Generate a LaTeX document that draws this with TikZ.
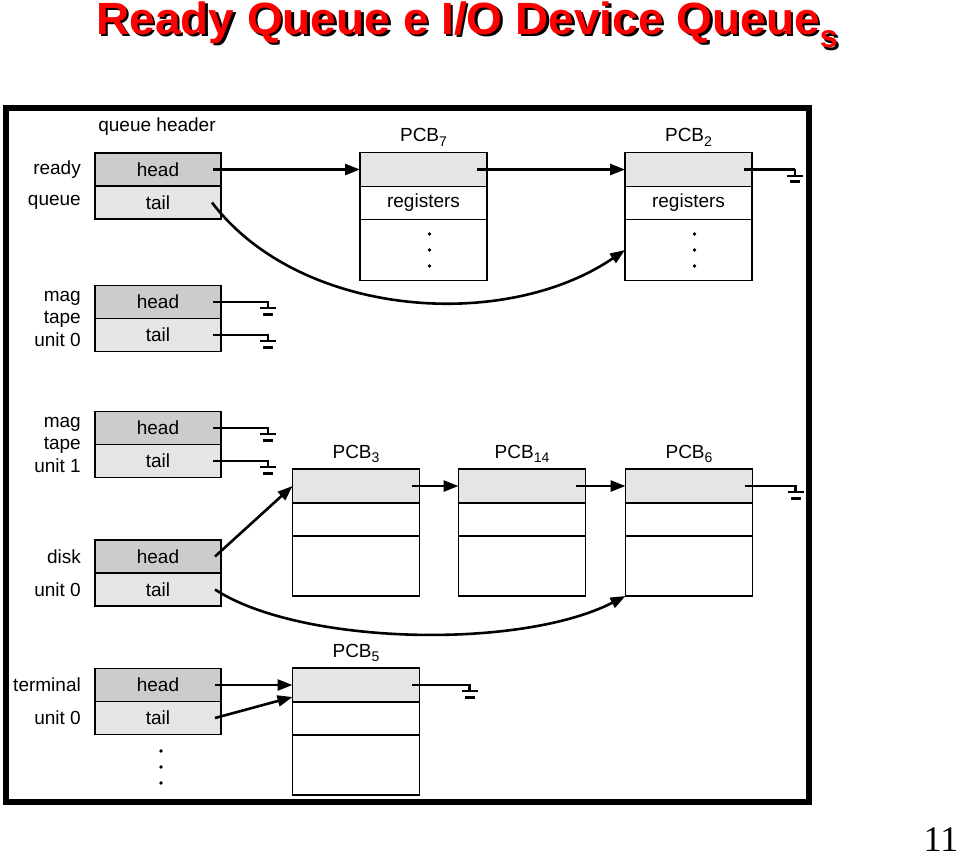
\documentclass[tikz,border=0pt]{standalone}
\usepackage{fontspec}
\setmainfont{Liberation Sans}
\newfontfamily\serifnum{Liberation Serif}
\usetikzlibrary{positioning,arrows.meta}

\newcommand{\lbl}{\fontsize{19}{22.5}\selectfont}
\newcommand{\pcb}[1]{PCB\raisebox{-0.45ex}{\fontsize{14}{14}\selectfont #1}}
\newcommand{\slidetitle}{\scalebox{1.07}[1.05]{\fontsize{43}{43}\selectfont\bfseries Ready Queue e I/O Device Queue\raisebox{-0.3em}{\fontsize{30}{30}\selectfont s}}}

\tikzset{
  cell/.style={draw, line width=1.6pt, outer sep=0pt, inner sep=0pt, minimum width=126pt, minimum height=33pt, font=\lbl},
  headcell/.style={cell, fill=gray!40},
  tailcell/.style={cell, fill=gray!20},
  pcbtop/.style={cell, minimum width=127pt, minimum height=34pt, fill=gray!20},
  pcbmid/.style={cell, minimum width=127pt, minimum height=33pt, fill=white},
  pcbbot/.style={cell, minimum width=127pt, minimum height=60pt, fill=white},
  qlabel/.style={font=\lbl, align=right, inner sep=0pt},
  pcblabel/.style={font=\lbl, inner sep=0pt},
  link/.style={line width=2.6pt},
  ptr/.style={link, -{Triangle[length=15pt,width=11pt]}},
  ground/.pic={
    \draw[line width=2.4pt] (0,-1) -- (0,6);
    \draw[line width=2pt] (-8,6) -- (8,6);
    \draw[line width=3pt] (-5,12) -- (5,12);
  }
}

\begin{document}
\begin{tikzpicture}[x=1pt, y=-1pt]
  \useasboundingbox (0,0) rectangle (960,855);

  \node[text=black] (ttlshadow) at (469.5,27.5) {\slidetitle};
  \node[text=red]   (ttl) at (467,25) {\slidetitle};
  \node[font=\serifnum\fontsize{36}{36}\selectfont, inner sep=0pt, anchor=base] (pageno) at (941,851) {11};

  \draw[line width=6pt] (6,108) rectangle (809,802);

  \node[font=\lbl] (qh) at (157,127) {queue header};

  \node[headcell]                  (rqh)  at (158,169.5) {head};
  \node[tailcell, below=0pt of rqh] (rqt) {tail};
  \node[headcell]                  (mt0h) at (158,302) {head};
  \node[tailcell, below=0pt of mt0h] (mt0t) {tail};
  \node[headcell]                  (mt1h) at (158,428) {head};
  \node[tailcell, below=0pt of mt1h] (mt1t) {tail};
  \node[headcell]                  (dkh)  at (158,556.5) {head};
  \node[tailcell, below=0pt of dkh] (dkt) {tail};
  \node[headcell]                  (tmh)  at (158,685) {head};
  \node[tailcell, below=0pt of tmh] (tmt) {tail};

  \node[qlabel, left=14pt of rqh]  (lready) {ready};
  \node[qlabel, left=14pt of rqt]  (lqueue) {queue};
  \node[qlabel, left=14pt of mt0h.south west] (lmt0) {mag\\tape\\unit 0};
  \node[qlabel, left=14pt of mt1h.south west] (lmt1) {mag\\tape\\unit 1};
  \node[qlabel, left=14pt of dkh]  (ldisk) {disk};
  \node[qlabel, left=14pt of dkt]  (ldunit) {unit 0};
  \node[qlabel, left=14pt of tmh]  (lterm) {terminal};
  \node[qlabel, left=14pt of tmt]  (ltunit) {unit 0};

  \node[pcbtop]                        (p7a) at (423.5,169.5) {};
  \node[pcbmid, below=0pt of p7a]      (p7b) {registers};
  \node[pcbbot, minimum height=61pt, below=0pt of p7b] (p7c) {};
  \node[pcbtop]                        (p2a) at (688.5,169.5) {};
  \node[pcbmid, below=0pt of p2a]      (p2b) {registers};
  \node[pcbbot, minimum height=61pt, below=0pt of p2b] (p2c) {};

  \node[pcbtop]                        (p3a) at (356,486) {};
  \node[pcbmid, below=0pt of p3a]      (p3b) {};
  \node[pcbbot, below=0pt of p3b]      (p3c) {};
  \node[pcbtop]                        (p14a) at (522,486) {};
  \node[pcbmid, below=0pt of p14a]     (p14b) {};
  \node[pcbbot, below=0pt of p14b]     (p14c) {};
  \node[pcbtop]                        (p6a) at (689,486) {};
  \node[pcbmid, below=0pt of p6a]      (p6b) {};
  \node[pcbbot, below=0pt of p6b]      (p6c) {};

  \node[pcbtop]                        (p5a) at (356,685) {};
  \node[pcbmid, below=0pt of p5a]      (p5b) {};
  \node[pcbbot, below=0pt of p5b]      (p5c) {};

  \node[pcblabel, above=6pt of p7a]  (l7)  {\pcb{7}};
  \node[pcblabel, above=6pt of p2a]  (l2)  {\pcb{2}};
  \node[pcblabel, above=6pt of p3a]  (l3)  {\pcb{3}};
  \node[pcblabel, above=6pt of p14a] (l14) {\pcb{14}};
  \node[pcblabel, above=6pt of p6a]  (l6)  {\pcb{6}};
  \node[pcblabel, above=6pt of p5a]  (l5)  {\pcb{5}};

  \foreach \d in {-16,0,16} {
    \fill ([shift={(6,\d)}]p7c.center) circle (1.8);
    \fill ([shift={(6,\d)}]p2c.center) circle (1.8);
    \fill ([shift={(3,49+\d)}]tmt.center) circle (1.8);
  }

  \coordinate (g2)   at ([xshift=43pt]p2a.east);
  \coordinate (gm0h) at ([xshift=47pt]mt0h.east);
  \coordinate (gm0t) at ([xshift=47pt]mt0t.east);
  \coordinate (gm1h) at ([xshift=47pt]mt1h.east);
  \coordinate (gm1t) at ([xshift=47pt]mt1t.east);
  \coordinate (g6)   at ([xshift=43pt]p6a.east);
  \coordinate (g5)   at ([xshift=50pt]p5a.east);

  \draw[ptr] ([xshift=-8pt]rqh.east) -- (p7a.west);
  \draw[ptr] ([xshift=-10pt]p7a.east) -- (p2a.west);
  \draw[link] ([xshift=-8pt]p2a.east) -- (g2);
  \draw[ptr] ([xshift=-9pt]rqt.east) .. controls (300,318) and (505,332) .. (p2c.west);

  \draw[link] ([xshift=-8pt]mt0h.east) -- (gm0h);
  \draw[link] ([xshift=-8pt]mt0t.east) -- (gm0t);
  \draw[link] ([xshift=-8pt]mt1h.east) -- (gm1h);
  \draw[link] ([xshift=-8pt]mt1t.east) -- (gm1t);

  \draw[ptr] ([xshift=-6pt]dkh.east) -- (p3a.west);
  \draw[ptr] ([xshift=-8pt]p3a.east) -- (p14a.west);
  \draw[ptr] ([xshift=-10pt]p14a.east) -- (p6a.west);
  \draw[link] ([xshift=-8pt]p6a.east) -- (g6);
  \draw[ptr] ([xshift=-6pt]dkt.east) .. controls (300,645) and (520,650) .. (p6c.south west);

  \draw[ptr] ([xshift=-6pt]tmh.east) -- (p5a.west);
  \draw[ptr] ([xshift=-6pt]tmt.east) -- ([yshift=-12pt]p5a.west);
  \draw[link] ([xshift=-8pt]p5a.east) -- (g5);

  \foreach \g in {g2,gm0h,gm0t,gm1h,gm1t,g6,g5}
    \pic at (\g) {ground};
\end{tikzpicture}
\end{document}
